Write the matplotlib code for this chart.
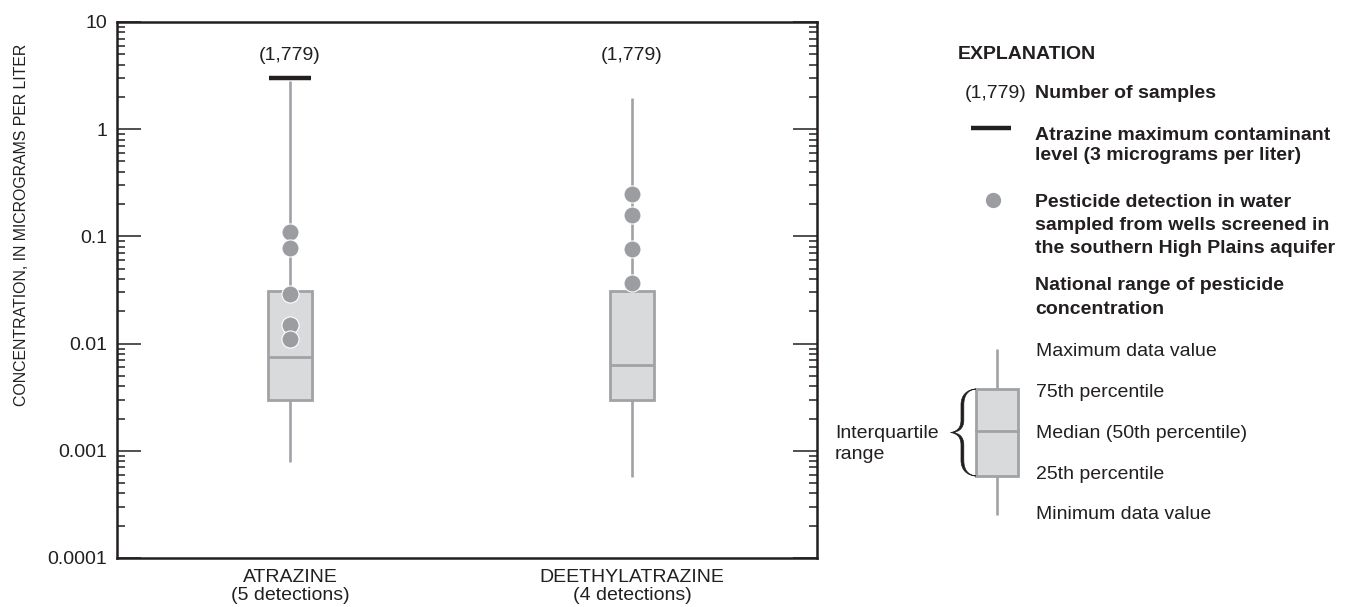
import numpy as np
import matplotlib
matplotlib.use("Agg")
import matplotlib.pyplot as plt
from matplotlib import font_manager
from matplotlib.ticker import LogLocator, FuncFormatter, NullFormatter
from matplotlib.patches import Rectangle, PathPatch
from matplotlib.path import Path
import matplotlib.transforms as mtransforms

plt.rcParams['font.family'] = ['Liberation Sans', 'DejaVu Sans']
plt.rcParams['font.size'] = 14

# ---------------- data ----------------
categories = ['ATRAZINE', 'DEETHYLATRAZINE']
n_detections = [5, 4]
n_samples = [1779, 1779]
whislo = [0.00079, 0.00057]
q1 = [0.0030, 0.0030]
med = [0.0075, 0.0063]
q3 = [0.031, 0.031]
whishi = [2.8, 1.95]
detections_atrazine = [0.11, 0.078, 0.029, 0.015, 0.011]
detections_deethylatrazine = [0.25, 0.16, 0.076, 0.037]
atrazine_mcl = 3.0
yticks = [0.0001, 0.001, 0.01, 0.1, 1, 10]

# ---------------- style ----------------
TXT = '#231f20'
BOX_FILL = '#d9dadc'
BOX_EDGE = '#a1a2a5'
PT = '#9c9da0'

W, H = 1348, 607
fig = plt.figure(figsize=(W / 100, H / 100), dpi=100)
ax = fig.add_axes([117 / W, 1 - 558 / H, 700 / W, 536 / H])

positions = list(range(len(categories)))
stats = []
for i, c in enumerate(categories):
    stats.append(dict(label=f'{c}\n({n_detections[i]} detections)',
                      whislo=whislo[i], q1=q1[i], med=med[i], q3=q3[i],
                      whishi=whishi[i], fliers=[]))

ax.bxp(stats, positions=positions, widths=0.126, patch_artist=True,
       showcaps=False, showfliers=False,
       boxprops=dict(facecolor=BOX_FILL, edgecolor=BOX_EDGE, linewidth=2.0),
       whiskerprops=dict(color=BOX_EDGE, linewidth=1.9, solid_capstyle='butt'),
       medianprops=dict(color=BOX_EDGE, linewidth=2.0))

for pos, vals in zip(positions, [detections_atrazine, detections_deethylatrazine]):
    ax.plot(np.full(len(vals), pos), vals, 'o', ms=12.3, mfc=PT,
            mec='white', mew=0.8, zorder=5, linestyle='none')

ax.hlines(atrazine_mcl, positions[0] - 0.06, positions[0] + 0.06,
          color=TXT, linewidth=3.2, zorder=6)

trans = mtransforms.blended_transform_factory(ax.transData, ax.transAxes)
for pos, n in zip(positions, n_samples):
    ax.text(pos, 0.938, f'({n:,})', transform=trans, ha='center',
            va='center', color=TXT)

ax.set_yscale('log')
ax.set_ylim(1e-4, 10)
ax.set_xlim(-0.5058, 1.541)
ax.set_yticks(yticks)
ax.yaxis.set_major_formatter(FuncFormatter(lambda v, p: f'{v:g}'))
ax.yaxis.set_minor_locator(LogLocator(base=10, subs=np.arange(2, 10), numticks=20))
ax.yaxis.set_minor_formatter(NullFormatter())
ax.tick_params(axis='y', which='major', direction='in', left=True, right=True,
               length=17, width=1.1, pad=7, colors=TXT, labelsize=14)
ax.tick_params(axis='y', which='minor', direction='in', left=True, right=True,
               length=6, width=1.1, colors=TXT)
ax.tick_params(axis='x', length=0, pad=8, labelsize=14, colors=TXT)
for lbl in ax.get_xticklabels():
    lbl.set_linespacing(1.05)
for s in ax.spines.values():
    s.set_linewidth(1.8)
    s.set_color(TXT)

installed = {f.name for f in font_manager.fontManager.ttflist}
if 'Liberation Sans Narrow' in installed:
    ylab_kw = dict(family=['Liberation Sans Narrow', 'DejaVu Sans'], fontsize=13.8)
else:
    ylab_kw = dict(fontsize=11.4)
fig.text(22 / W, 1 - 225 / H, 'CONCENTRATION, IN MICROGRAMS PER LITER',
         rotation=90, ha='center', va='center', color=TXT, **ylab_kw)

# ---------------- explanation ----------------
lax = fig.add_axes([0, 0, 1, 1])
lax.set_xlim(0, W)
lax.set_ylim(H, 0)
lax.axis('off')

def t(x, y, s, **kw):
    lax.text(x, y, s, va='baseline', color=TXT, fontsize=14, **kw)

t(958, 59, 'EXPLANATION', weight='bold')
t(1027, 97.5, f'({n_samples[0]:,})', ha='right')
t(1035, 97.5, 'Number of samples', weight='bold')
lax.plot([971, 1011], [128, 128], color=TXT, lw=3.2, solid_capstyle='butt')
t(1035, 139.5, 'Atrazine maximum contaminant', weight='bold')
t(1035, 160.5, 'level (3 micrograms per liter)', weight='bold')
lax.plot([993], [200], 'o', ms=11, mfc=PT, mec='none')
t(1035, 207, 'Pesticide detection in water', weight='bold')
t(1035, 230, 'sampled from wells screened in', weight='bold')
t(1035, 253, 'the southern High Plains aquifer', weight='bold')
t(1035, 290, 'National range of pesticide', weight='bold')
t(1035, 313.5, 'concentration', weight='bold')

lax.plot([997, 997], [349, 389], color=BOX_EDGE, lw=1.9, solid_capstyle='butt')
lax.plot([997, 997], [476, 515], color=BOX_EDGE, lw=1.9, solid_capstyle='butt')
lax.add_patch(Rectangle((976, 389), 42, 87, facecolor=BOX_FILL,
                        edgecolor=BOX_EDGE, lw=2.0))
lax.plot([976, 1018], [431, 431], color=BOX_EDGE, lw=2.0)
t(1036, 356, 'Maximum data value')
t(1036, 397, '75th percentile')
t(1036, 438, 'Median (50th percentile)')
t(1036, 479, '25th percentile')
t(1036, 519, 'Minimum data value')
t(835, 438, 'Interquartile')
t(835, 459, 'range')

# curly brace: thin ends, thicker middles (outer + inner outline filled)
outer = [(976, 389), (967, 389.5), (961, 395), (961, 405),
         (961, 420),
         (961, 428), (957, 431.5), (950.5, 432.5),
         (957, 433.5), (961, 437), (961, 445),
         (961, 460),
         (961, 470), (967, 475.5), (976, 476)]
inner = [(976, 476), (968, 475), (963.8, 470), (963.8, 460),
         (963.8, 445),
         (963.8, 437), (959.5, 433.5), (953, 432.5),
         (959.5, 431.5), (963.8, 428), (963.8, 420),
         (963.8, 405),
         (963.8, 395), (968, 390), (976, 389)]
seg = [Path.CURVE4, Path.CURVE4, Path.CURVE4, Path.LINETO,
       Path.CURVE4, Path.CURVE4, Path.CURVE4,
       Path.CURVE4, Path.CURVE4, Path.CURVE4, Path.LINETO,
       Path.CURVE4, Path.CURVE4, Path.CURVE4]
verts = outer + inner[1:] + [outer[0]]
codes = [Path.MOVETO] + seg + seg + [Path.CLOSEPOLY]
lax.add_patch(PathPatch(Path(verts, codes), facecolor=TXT, edgecolor=TXT, lw=0.5))

fig.savefig('out.png', dpi=100)
